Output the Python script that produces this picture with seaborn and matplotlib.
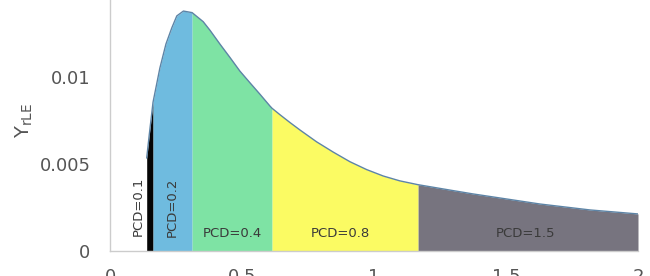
import numpy as np
import pandas as pd
import matplotlib
matplotlib.use("Agg")
import matplotlib.pyplot as plt
import seaborn as sns

# Curve (x = PCD, y = Y_rLE)
curve_x = [0.139, 0.149, 0.163, 0.189, 0.212, 0.234, 0.253, 0.278, 0.311, 0.353,
           0.379, 0.417, 0.455, 0.492, 0.530, 0.568, 0.606, 0.614, 0.644, 0.682,
           0.720, 0.783, 0.846, 0.909, 0.972, 1.035, 1.098, 1.167, 1.288, 1.375,
           1.629, 1.818, 2.000]
curve_y = [0.00534, 0.00672, 0.00855, 0.01052, 0.01190, 0.01282, 0.01351, 0.01379, 0.01370, 0.01318,
           0.01268, 0.01188, 0.01111, 0.01034, 0.00967, 0.00901, 0.00833, 0.00820, 0.00783, 0.00738,
           0.00695, 0.00627, 0.00568, 0.00513, 0.00468, 0.00431, 0.00403, 0.00381, 0.00350, 0.00328,
           0.00270, 0.00236, 0.00213]

# Regions (bounds) and labels
region_bounds = [(0.139, 0.163), (0.163, 0.311), (0.311, 0.614), (0.614, 1.167), (1.167, 2.000)]
region_labels = ["PCD=0.1", "PCD=0.2", "PCD=0.4", "PCD=0.8", "PCD=1.5"]
region_colors = ["#050505", "#6fbbdf", "#7ee3a4", "#fbfb63", "#77747f"]
label_x = [0.106, 0.235, 0.462, 0.871, 1.572]
label_y = [0.00258, 0.00250, 0.00103, 0.00103, 0.00098]
label_rot = [90, 90, 0, 0, 0]

xticks = [0, 0.5, 1, 1.5, 2]
xtick_labels = ["0", "0.5", "1", "1.5", "2"]
yticks = [0, 0.005, 0.01]
ytick_labels = ["0", "0.005", "0.01"]

sns.set_style("white")
plt.rcParams["font.family"] = ["DejaVu Sans"]

fig = plt.figure(figsize=(6.5, 2.76), dpi=100)
ax = fig.add_axes([110 / 650, 25 / 276, 528 / 650, 261 / 276])

df = pd.DataFrame({"x": curve_x, "y": curve_y})
xs = np.array(curve_x)
ys = np.array(curve_y)
for (a, b), c in zip(region_bounds, region_colors):
    m = (xs >= a - 1e-9) & (xs <= b + 1e-9)
    ax.fill_between(xs[m], 0, ys[m], color=c, linewidth=0, zorder=1)

sns.lineplot(data=df, x="x", y="y", ax=ax, color="#5d84a6", linewidth=1.0, zorder=3)

for t, lx, ly, r in zip(region_labels, label_x, label_y, label_rot):
    ax.text(lx, ly, t, rotation=r, ha="center", va="center", fontsize=9.5,
            color="#3a3a3a", zorder=4)

ax.set_xlim(0, 2)
ax.set_ylim(0, 0.015)
ax.set_xticks(xticks)
ax.set_xticklabels(xtick_labels)
ax.set_yticks(yticks)
ax.set_yticklabels(ytick_labels)
ax.tick_params(axis="both", length=0, labelsize=13, labelcolor="#555555")
ax.tick_params(axis="y", pad=14)
ax.tick_params(axis="x", pad=12)
ax.set_xlabel("")
ax.set_ylabel(r"$\mathregular{Y_{rLE}}$", fontsize=14, color="#555555", labelpad=3)

for s in ["top", "right"]:
    ax.spines[s].set_visible(False)
for s in ["left", "bottom"]:
    ax.spines[s].set_color("#cccccc")
    ax.spines[s].set_linewidth(1.0)

fig.savefig("out.png", dpi=100)
